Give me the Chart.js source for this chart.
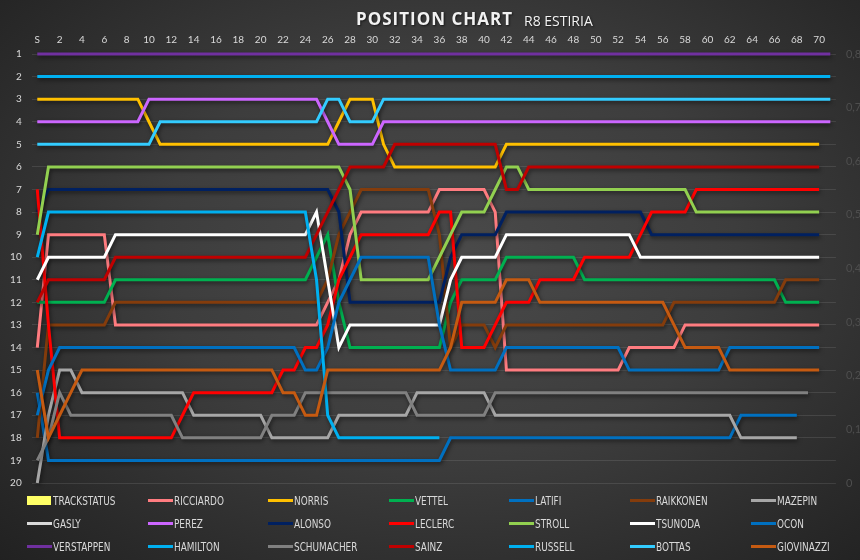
<!DOCTYPE html>
<html>
<head>
<meta charset="utf-8">
<script src="https://cdn.jsdelivr.net/npm/chart.js@4.4.0/dist/chart.umd.min.js"></script>
<style>
html, body { margin: 0; padding: 0; }
body {
    width: 860px; height: 560px; overflow: hidden; position: relative;
    background: radial-gradient(ellipse 75% 80% at 52% 45%, #4a4a4a 0%, #3d3d3d 45%, #2a2a2a 80%, #202020 100%);
    font-family: Lato, "Open Sans", sans-serif;
}
#wrap { position: absolute; left: 0; top: 0; width: 860px; height: 560px; }
#title {
    position: absolute; left: 356px; top: 8px; line-height: 22px;
    font-family: "Open Sans", sans-serif; font-weight: bold; font-size: 17px;
    letter-spacing: 1px; color: #f2f2f2; text-shadow: 1px 1px 2px rgba(0,0,0,0.6);
}
#sub {
    position: absolute; left: 524px; top: 11px; line-height: 20px;
    font-family: "Open Sans", sans-serif; font-size: 14px; color: #f2f2f2;
    text-shadow: 1px 1px 2px rgba(0,0,0,0.6);
}
.item { position: absolute; height: 14px; white-space: nowrap; }
.item .mark { position: absolute; left: 0; }
.item .txt {
    position: absolute; left: 26px; top: 0; line-height: 14px;
    font-family: "Liberation Sans Narrow", "DejaVu Sans Condensed", sans-serif;
    font-size: 11.5px; color: #d9d9d9;
    transform: scaleX(0.86); transform-origin: left center;
}
</style>
</head>
<body>
<div id="wrap"><canvas id="chart" width="860" height="560"></canvas></div>
<div id="title">POSITION CHART</div>
<div id="sub">R8 ESTIRIA</div>
<div id="legend"></div>
<script>

// laps: S = start, then lap 1..71
var laps = ["S", "1", "2", "3", "4", "5", "6", "7", "8", "9",
    "10", "11", "12", "13", "14", "15", "16", "17", "18", "19",
    "20", "21", "22", "23", "24", "25", "26", "27", "28", "29",
    "30", "31", "32", "33", "34", "35", "36", "37", "38", "39",
    "40", "41", "42", "43", "44", "45", "46", "47", "48", "49",
    "50", "51", "52", "53", "54", "55", "56", "57", "58", "59",
    "60", "61", "62", "63", "64", "65", "66", "67", "68", "69",
    "70", "71"];

var trackStatus = [0, 0, 0, 0, 0, 0, 0, 0, 0, 0,
    0, 0, 0, 0, 0, 0, 0, 0, 0, 0,
    0, 0, 0, 0, 0, 0, 0, 0, 0, 0,
    0, 0, 0, 0, 0, 0, 0, 0, 0, 0,
    0, 0, 0, 0, 0, 0, 0, 0, 0, 0,
    0, 0, 0, 0, 0, 0, 0, 0, 0, 0,
    0, 0, 0, 0, 0, 0, 0, 0, 0, 0,
    0, 0];

var ricciardo = [14, 9, 9, 9, 9, 9, 9, 13, 13, 13,
    13, 13, 13, 13, 13, 13, 13, 13, 13, 13,
    13, 13, 13, 13, 13, 13, 12, 11, 9, 8,
    8, 8, 8, 8, 8, 8, 7, 7, 7, 7,
    7, 8, 15, 15, 15, 15, 15, 15, 15, 15,
    15, 15, 15, 14, 14, 14, 14, 14, 13, 13,
    13, 13, 13, 13, 13, 13, 13, 13, 13, 13,
    13];

var norris = [3, 3, 3, 3, 3, 3, 3, 3, 3, 3,
    4, 5, 5, 5, 5, 5, 5, 5, 5, 5,
    5, 5, 5, 5, 5, 5, 5, 4, 3, 3,
    3, 5, 6, 6, 6, 6, 6, 6, 6, 6,
    6, 6, 5, 5, 5, 5, 5, 5, 5, 5,
    5, 5, 5, 5, 5, 5, 5, 5, 5, 5,
    5, 5, 5, 5, 5, 5, 5, 5, 5, 5,
    5];

var vettel = [12, 12, 12, 12, 12, 12, 12, 11, 11, 11,
    11, 11, 11, 11, 11, 11, 11, 11, 11, 11,
    11, 11, 11, 11, 11, 10, 9, 12, 14, 14,
    14, 14, 14, 14, 14, 14, 14, 12, 11, 11,
    11, 11, 10, 10, 10, 10, 10, 10, 10, 11,
    11, 11, 11, 11, 11, 11, 11, 11, 11, 11,
    11, 11, 11, 11, 11, 11, 11, 12, 12, 12,
    12];

var latifi = [16, 19, 19, 19, 19, 19, 19, 19, 19, 19,
    19, 19, 19, 19, 19, 19, 19, 19, 19, 19,
    19, 19, 19, 19, 19, 19, 19, 19, 19, 19,
    19, 19, 19, 19, 19, 19, 19, 18, 18, 18,
    18, 18, 18, 18, 18, 18, 18, 18, 18, 18,
    18, 18, 18, 18, 18, 18, 18, 18, 18, 18,
    18, 18, 18, 17, 17, 17, 17, 17, 17];

var raikkonen = [18, 13, 13, 13, 13, 13, 13, 12, 12, 12,
    12, 12, 12, 12, 12, 12, 12, 12, 12, 12,
    12, 12, 12, 12, 12, 12, 11, 9, 8, 7,
    7, 7, 7, 7, 7, 7, 9, 14, 13, 13,
    13, 14, 13, 13, 13, 13, 13, 13, 13, 13,
    13, 13, 13, 13, 13, 13, 13, 12, 12, 12,
    12, 12, 12, 12, 12, 12, 12, 11, 11, 11,
    11];

var mazepin = [20, 17, 15, 15, 16, 16, 16, 16, 16, 16,
    16, 16, 16, 16, 17, 17, 17, 17, 17, 17,
    17, 18, 18, 18, 18, 18, 18, 17, 17, 17,
    17, 17, 17, 17, 16, 16, 16, 16, 16, 16,
    16, 17, 17, 17, 17, 17, 17, 17, 17, 17,
    17, 17, 17, 17, 17, 17, 17, 17, 17, 17,
    17, 17, 17, 18, 18, 18, 18, 18, 18];

var gasly = [6];

var perez = [4, 4, 4, 4, 4, 4, 4, 4, 4, 4,
    3, 3, 3, 3, 3, 3, 3, 3, 3, 3,
    3, 3, 3, 3, 3, 3, 4, 5, 5, 5,
    5, 4, 4, 4, 4, 4, 4, 4, 4, 4,
    4, 4, 4, 4, 4, 4, 4, 4, 4, 4,
    4, 4, 4, 4, 4, 4, 4, 4, 4, 4,
    4, 4, 4, 4, 4, 4, 4, 4, 4, 4,
    4, 4];

var alonso = [8, 7, 7, 7, 7, 7, 7, 7, 7, 7,
    7, 7, 7, 7, 7, 7, 7, 7, 7, 7,
    7, 7, 7, 7, 7, 7, 7, 8, 12, 12,
    12, 12, 12, 12, 12, 12, 12, 10, 9, 9,
    9, 9, 8, 8, 8, 8, 8, 8, 8, 8,
    8, 8, 8, 8, 8, 9, 9, 9, 9, 9,
    9, 9, 9, 9, 9, 9, 9, 9, 9, 9,
    9];

var leclerc = [7, 13, 18, 18, 18, 18, 18, 18, 18, 18,
    18, 18, 18, 17, 16, 16, 16, 16, 16, 16,
    16, 16, 15, 15, 14, 14, 13, 11, 10, 9,
    9, 9, 9, 9, 9, 9, 8, 8, 14, 14,
    14, 13, 12, 12, 12, 11, 11, 11, 11, 10,
    10, 10, 10, 10, 9, 8, 8, 8, 8, 7,
    7, 7, 7, 7, 7, 7, 7, 7, 7, 7,
    7];

var stroll = [9, 6, 6, 6, 6, 6, 6, 6, 6, 6,
    6, 6, 6, 6, 6, 6, 6, 6, 6, 6,
    6, 6, 6, 6, 6, 6, 6, 6, 7, 11,
    11, 11, 11, 11, 11, 11, 10, 9, 8, 8,
    8, 7, 6, 6, 7, 7, 7, 7, 7, 7,
    7, 7, 7, 7, 7, 7, 7, 7, 7, 8,
    8, 8, 8, 8, 8, 8, 8, 8, 8, 8,
    8];

var tsunoda = [11, 10, 10, 10, 10, 10, 10, 9, 9, 9,
    9, 9, 9, 9, 9, 9, 9, 9, 9, 9,
    9, 9, 9, 9, 9, 8, 11, 14, 13, 13,
    13, 13, 13, 13, 13, 13, 13, 11, 10, 10,
    10, 10, 9, 9, 9, 9, 9, 9, 9, 9,
    9, 9, 9, 9, 10, 10, 10, 10, 10, 10,
    10, 10, 10, 10, 10, 10, 10, 10, 10, 10,
    10];

var ocon = [17, 15, 14, 14, 14, 14, 14, 14, 14, 14,
    14, 14, 14, 14, 14, 14, 14, 14, 14, 14,
    14, 14, 14, 14, 15, 15, 14, 12, 11, 10,
    10, 10, 10, 10, 10, 10, 13, 15, 15, 15,
    15, 15, 14, 14, 14, 14, 14, 14, 14, 14,
    14, 14, 14, 15, 15, 15, 15, 15, 15, 15,
    15, 15, 14, 14, 14, 14, 14, 14, 14, 14,
    14];

var verstappen = [1, 1, 1, 1, 1, 1, 1, 1, 1, 1,
    1, 1, 1, 1, 1, 1, 1, 1, 1, 1,
    1, 1, 1, 1, 1, 1, 1, 1, 1, 1,
    1, 1, 1, 1, 1, 1, 1, 1, 1, 1,
    1, 1, 1, 1, 1, 1, 1, 1, 1, 1,
    1, 1, 1, 1, 1, 1, 1, 1, 1, 1,
    1, 1, 1, 1, 1, 1, 1, 1, 1, 1,
    1, 1];

var hamilton = [2, 2, 2, 2, 2, 2, 2, 2, 2, 2,
    2, 2, 2, 2, 2, 2, 2, 2, 2, 2,
    2, 2, 2, 2, 2, 2, 2, 2, 2, 2,
    2, 2, 2, 2, 2, 2, 2, 2, 2, 2,
    2, 2, 2, 2, 2, 2, 2, 2, 2, 2,
    2, 2, 2, 2, 2, 2, 2, 2, 2, 2,
    2, 2, 2, 2, 2, 2, 2, 2, 2, 2,
    2, 2];

var schumacher = [19, 18, 16, 17, 17, 17, 17, 17, 17, 17,
    17, 17, 17, 18, 18, 18, 18, 18, 18, 18,
    18, 17, 17, 17, 16, 16, 16, 16, 16, 16,
    16, 16, 16, 16, 17, 17, 17, 17, 17, 17,
    17, 16, 16, 16, 16, 16, 16, 16, 16, 16,
    16, 16, 16, 16, 16, 16, 16, 16, 16, 16,
    16, 16, 16, 16, 16, 16, 16, 16, 16, 16];

var sainz = [12, 11, 11, 11, 11, 11, 11, 10, 10, 10,
    10, 10, 10, 10, 10, 10, 10, 10, 10, 10,
    10, 10, 10, 10, 10, 9, 8, 7, 6, 6,
    6, 6, 5, 5, 5, 5, 5, 5, 5, 5,
    5, 5, 7, 7, 6, 6, 6, 6, 6, 6,
    6, 6, 6, 6, 6, 6, 6, 6, 6, 6,
    6, 6, 6, 6, 6, 6, 6, 6, 6, 6,
    6];

var russell = [10, 8, 8, 8, 8, 8, 8, 8, 8, 8,
    8, 8, 8, 8, 8, 8, 8, 8, 8, 8,
    8, 8, 8, 8, 8, 11, 17, 18, 18, 18,
    18, 18, 18, 18, 18, 18, 18];

var bottas = [5, 5, 5, 5, 5, 5, 5, 5, 5, 5,
    5, 4, 4, 4, 4, 4, 4, 4, 4, 4,
    4, 4, 4, 4, 4, 4, 3, 3, 4, 4,
    4, 3, 3, 3, 3, 3, 3, 3, 3, 3,
    3, 3, 3, 3, 3, 3, 3, 3, 3, 3,
    3, 3, 3, 3, 3, 3, 3, 3, 3, 3,
    3, 3, 3, 3, 3, 3, 3, 3, 3, 3,
    3, 3];

var giovinazzi = [15, 18, 17, 16, 15, 15, 15, 15, 15, 15,
    15, 15, 15, 15, 15, 15, 15, 15, 15, 15,
    15, 15, 16, 16, 17, 17, 15, 15, 15, 15,
    15, 15, 15, 15, 15, 15, 15, 14, 12, 12,
    12, 12, 11, 11, 11, 12, 12, 12, 12, 12,
    12, 12, 12, 12, 12, 12, 12, 13, 14, 14,
    14, 14, 15, 15, 15, 15, 15, 15, 15, 15,
    15];

var positionTicks = [1, 2, 3, 4, 5, 6, 7, 8, 9, 10, 11, 12, 13, 14, 15, 16, 17, 18, 19, 20];

// series in legend order
var driverNames = ["RICCIARDO", "NORRIS", "VETTEL", "LATIFI", "RAIKKONEN", "MAZEPIN",
    "GASLY", "PEREZ", "ALONSO", "LECLERC", "STROLL", "TSUNODA", "OCON",
    "VERSTAPPEN", "HAMILTON", "SCHUMACHER", "SAINZ", "RUSSELL", "BOTTAS", "GIOVINAZZI"];
var driverData = [ricciardo, norris, vettel, latifi, raikkonen, mazepin,
    gasly, perez, alonso, leclerc, stroll, tsunoda, ocon,
    verstappen, hamilton, schumacher, sainz, russell, bottas, giovinazzi];
var driverColors = ["#ff7c80", "#ffc000", "#00b050", "#0070c0", "#843c0c", "#a6a6a6",
    "#d9d9d9", "#cc66ff", "#002060", "#ff0000", "#92d050", "#ffffff", "#0070c0",
    "#7030a0", "#00b0f0", "#808080", "#c00000", "#00b0f0", "#33ccff", "#c55a11"];

var datasets = [{
    type: 'bar',
    label: 'TRACKSTATUS',
    data: trackStatus,
    yAxisID: 'y2',
    backgroundColor: '#ffff66',
    borderWidth: 0,
    order: 100
}];

for (var i = 0; i < driverNames.length; i++) {
    datasets.push({
        type: 'line',
        label: driverNames[i],
        data: driverData[i],
        yAxisID: 'y',
        borderColor: driverColors[i],
        backgroundColor: driverColors[i],
        borderWidth: 3,
        pointRadius: 0,
        tension: 0,
        fill: false,
        clip: false,
        order: driverNames.length - i   // later series drawn on top, like excel
    });
}

// soft drop shadow under the lines
var lineShadow = {
    id: 'lineShadow',
    beforeDatasetDraw: function (chart) {
        var ctx = chart.ctx;
        ctx.save();
        ctx.shadowColor = 'rgba(0, 0, 0, 0.55)';
        ctx.shadowBlur = 4;
        ctx.shadowOffsetX = 1;
        ctx.shadowOffsetY = 2;
    },
    afterDatasetDraw: function (chart) {
        chart.ctx.restore();
    }
};

var tickFont = { family: 'Lato, "Open Sans", sans-serif', size: 10 };

let chart = new Chart(document.getElementById('chart').getContext('2d'), {
    data: {
        labels: laps,
        datasets: datasets
    },
    options: {
        responsive: false,
        animation: false,
        layout: { padding: { top: 0, left: 0, right: 0, bottom: 77 } },
        plugins: {
            legend: { display: false },
            tooltip: { enabled: false },
            title: { display: false }
        },
        scales: {
            x: {
                type: 'category',
                position: 'top',
                offset: true,
                grid: { display: false, drawTicks: false },
                border: { display: false },
                ticks: {
                    autoSkip: false,
                    maxRotation: 0,
                    color: '#d9d9d9',
                    font: tickFont,
                    padding: 8,
                    callback: function (v, idx) {
                        return (idx % 2 === 0 && idx <= 70) ? this.getLabelForValue(v) : '';
                    }
                },
                afterFit: function (s) { s.height = 54; }
            },
            y: {
                position: 'left',
                reverse: true,
                min: 1,
                max: 20,
                afterBuildTicks: function (s) {
                    s.ticks = positionTicks.map(function (p) { return { value: p }; });
                },
                ticks: { color: '#d9d9d9', font: tickFont, padding: 10 },
                grid: { color: 'rgba(255, 255, 255, 0.10)', lineWidth: 1, drawTicks: false },
                border: { display: false },
                afterFit: function (s) { s.width = 31.7; }
            },
            y2: {
                position: 'right',
                min: 0,
                max: 0.8,
                ticks: {
                    stepSize: 0.1,
                    color: '#4e4e4e',
                    font: { family: 'Lato, sans-serif', size: 11 },
                    padding: 10,
                    callback: function (v) {
                        return v === 0 ? '0' : v.toFixed(1).replace('.', ',');
                    }
                },
                grid: { display: false, drawTicks: false },
                border: { display: false },
                afterFit: function (s) { s.width = 24.1; }
            }
        }
    },
    plugins: [lineShadow]
});

// Legend (7 columns, 3 rows, same order as excel)
var legendNames = ["TRACKSTATUS"].concat(driverNames);
var legendColors = ["#ffff66"].concat(driverColors);
var legend = document.getElementById('legend');
for (var k = 0; k < legendNames.length; k++) {
    var col = k % 7, row = Math.floor(k / 7);
    var item = document.createElement('div');
    item.className = 'item';
    item.style.left = (27 + col * 120.6) + 'px';
    item.style.top = (494 + row * 23) + 'px';
    var mark = document.createElement('div');
    mark.className = 'mark';
    mark.style.background = legendColors[k];
    if (k === 0) {
        mark.style.width = '24px'; mark.style.height = '9px'; mark.style.top = '2px';
    } else {
        mark.style.width = '25px'; mark.style.height = '3px'; mark.style.top = '5px';
    }
    var txt = document.createElement('div');
    txt.className = 'txt';
    txt.textContent = legendNames[k];
    item.appendChild(mark);
    item.appendChild(txt);
    legend.appendChild(item);
}

</script>
</body>
</html>
